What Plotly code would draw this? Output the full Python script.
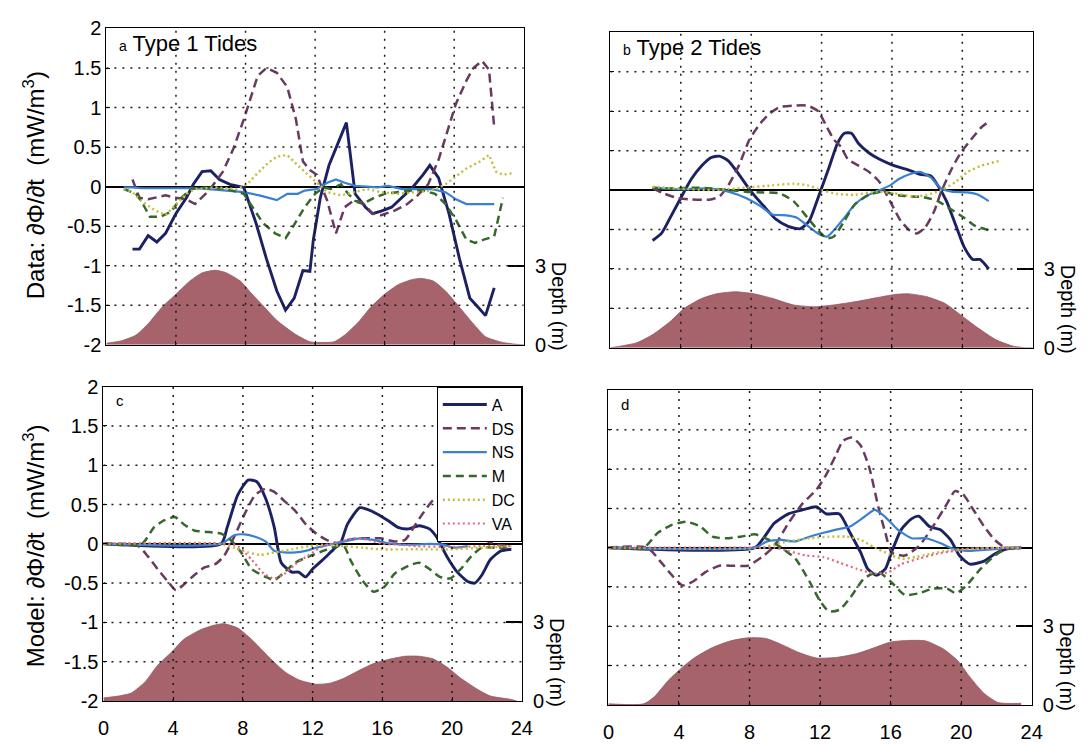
import plotly.graph_objects as go

W, H = 1088, 746
FONT = "Liberation Sans, Arial, Helvetica, sans-serif"

SERIES = ["A", "DS", "NS", "M", "DC", "VA"]
HOUR_TICKS = [0, 4, 8, 12, 16, 20, 24]
FLUX_TICKS = [-2, -1.5, -1, -0.5, 0, 0.5, 1, 1.5, 2]
FLUX_LABELS = ["-2", "-1.5", "-1", "-0.5", "0", "0.5", "1", "1.5", "2"]
DEPTH_TICKS = [0, 3]
DEPTH_LABELS = ["0", "3"]

# ---- (a) observations, type 1 tides: hour of day vs dPhi/dt (mW/m^3) ----
a_A_t = [1.5, 1.9, 2.4, 2.9, 3.4, 4.0, 4.6, 5.0, 5.5, 6.0, 6.5, 7.1, 7.9, 8.6, 9.2, 9.8, 10.3, 10.8, 11.3, 11.7,
         11.9, 12.3, 12.8, 13.3, 13.8, 14.3, 14.9, 15.3, 15.8, 16.4, 17.0, 17.6, 18.2, 18.6, 19.1, 19.7, 20.3,
         20.9, 21.4, 21.8, 22.3]
a_A = [-0.79, -0.79, -0.62, -0.70, -0.59, -0.34, -0.14, 0.03, 0.19, 0.20, 0.09, 0.03, -0.01, -0.46, -0.91, -1.32,
       -1.56, -1.41, -1.06, -1.07, -0.67, -0.14, 0.27, 0.54, 0.81, -0.09, -0.26, -0.34, -0.31, -0.26, -0.14, -0.01,
       0.15, 0.27, 0.11, -0.34, -0.91, -1.41, -1.53, -1.63, -1.28]
a_DS_t = [1.5, 1.9, 2.4, 3.4, 4.0, 4.6, 5.1, 5.9, 6.7, 7.3, 7.9, 8.3, 8.7, 9.2, 9.8, 10.4, 10.9, 11.3, 11.7, 12.1,
          12.7, 13.2, 13.7, 14.2, 14.8, 15.3, 15.8, 16.6, 17.3, 17.9, 18.5, 19.1, 19.6, 20.1, 20.7, 21.1, 21.6,
          22.0, 22.3]
a_DS = [0.09, -0.14, -0.16, -0.11, -0.14, -0.16, -0.22, -0.05, 0.19, 0.48, 0.85, 1.14, 1.40, 1.50, 1.44, 1.26,
        0.85, 0.32, 0.21, 0.15, -0.18, -0.59, -0.26, -0.18, -0.22, -0.34, -0.36, -0.30, -0.22, -0.11, 0.03, 0.34,
        0.68, 1.05, 1.34, 1.50, 1.59, 1.48, 0.75]
a_NS_t = [1.0, 1.5, 2.0, 3.0, 4.0, 5.0, 5.9, 7.0, 7.9, 8.8, 9.8, 10.4, 11.0, 11.4, 12.1, 12.7, 13.2, 13.7, 14.3,
          15.6, 16.2, 17.0, 17.8, 18.7, 19.5, 20.1, 20.7, 21.5, 22.3]
a_NS = [-0.01, -0.01, -0.02, -0.02, -0.02, -0.02, -0.03, -0.05, -0.07, -0.11, -0.17, -0.09, -0.09, -0.05, -0.03,
        0.05, 0.09, 0.05, 0.01, -0.01, 0.01, -0.03, -0.03, -0.03, -0.07, -0.16, -0.22, -0.22, -0.22]
a_M_t = [1.0, 1.7, 2.0, 2.5, 3.1, 3.7, 4.3, 4.9, 5.5, 6.9, 7.9, 8.4, 9.0, 9.7, 10.3, 10.8, 11.4, 12.0, 12.5, 12.9,
         13.5, 13.9, 14.3, 14.9, 15.4, 16.0, 16.6, 17.4, 18.2, 18.9, 19.5, 20.1, 20.7, 21.2, 21.7, 22.3, 22.8]
a_M = [-0.03, -0.09, -0.18, -0.38, -0.38, -0.32, -0.14, -0.03, -0.01, -0.03, -0.09, -0.26, -0.46, -0.59, -0.65,
       -0.48, -0.26, -0.09, -0.01, -0.03, 0.03, -0.09, -0.18, -0.20, -0.14, -0.09, -0.07, -0.05, -0.05, -0.09,
       -0.22, -0.42, -0.67, -0.71, -0.67, -0.63, -0.14]
a_DC_t = [1.0, 1.5, 2.0, 2.8, 3.4, 4.0, 4.6, 5.1, 6.3, 7.5, 8.1, 8.6, 9.3, 9.8, 10.4, 11.0, 11.6, 12.1, 12.7, 13.5,
          14.3, 15.0, 15.8, 16.8, 17.8, 18.7, 19.5, 20.1, 20.7, 21.5, 22.0, 22.4, 22.8, 23.3]
a_DC = [-0.03, -0.07, -0.18, -0.30, -0.36, -0.22, -0.09, -0.03, -0.01, -0.03, 0.03, 0.15, 0.30, 0.38, 0.40, 0.27,
        0.15, 0.05, -0.07, -0.11, -0.07, -0.03, -0.07, -0.09, -0.07, -0.05, 0.03, 0.13, 0.23, 0.32, 0.40, 0.19,
        0.15, 0.17]
a_depth_t = [0, 0.9, 1.7, 2.4, 3.2, 4.0, 4.8, 5.5, 6.3, 6.9, 7.7, 8.3, 9.0, 9.8, 10.8, 11.7, 12.5, 13.1, 13.7,
             14.5, 15.2, 16.0, 16.8, 17.6, 18.1, 18.8, 19.5, 20.3, 21.1, 21.8, 22.8, 23.6, 24.0]
a_depth = [0.06, 0.16, 0.37, 0.80, 1.43, 1.92, 2.42, 2.73, 2.83, 2.73, 2.42, 1.98, 1.49, 0.93, 0.43, 0.12, 0.09,
           0.12, 0.37, 0.87, 1.43, 1.92, 2.29, 2.48, 2.52, 2.42, 2.04, 1.43, 0.80, 0.31, 0.09, 0.02, 0.0]

# ---- (b) observations, type 2 tides ----
b_A_t = [2.4, 2.9, 3.4, 4.0, 4.6, 5.2, 5.7, 6.2, 6.7, 7.3, 8.0, 8.7, 9.4, 10.1, 10.8, 11.3, 11.8, 12.4, 12.9, 13.3,
         13.7, 14.1, 14.7, 15.3, 15.9, 16.4, 17.0, 17.6, 18.2, 18.6, 19.1, 19.6, 20.1, 20.6, 21.0, 21.5]
b_A = [-0.64, -0.55, -0.35, -0.10, 0.14, 0.31, 0.41, 0.43, 0.37, 0.20, -0.02, -0.20, -0.37, -0.46, -0.49, -0.39,
       -0.10, 0.27, 0.59, 0.72, 0.72, 0.59, 0.47, 0.39, 0.33, 0.29, 0.25, 0.20, 0.18, 0.06, -0.14, -0.43, -0.72,
       -0.88, -0.88, -1.0]
b_DS_t = [2.4, 3.0, 3.8, 4.6, 5.7, 6.2, 6.7, 7.3, 7.9, 8.5, 9.0, 9.6, 10.4, 11.2, 11.8, 12.3, 12.7, 13.1, 13.5,
          14.1, 14.7, 15.3, 15.7, 16.1, 16.5, 17.0, 17.4, 17.9, 18.4, 18.8, 19.4, 19.9, 20.5, 21.1, 21.6]
b_DS = [0.02, -0.04, -0.10, -0.12, -0.12, -0.08, 0.06, 0.31, 0.64, 0.84, 0.96, 1.05, 1.07, 1.07, 1.0, 0.80, 0.64,
        0.55, 0.39, 0.31, 0.23, 0.10, -0.06, -0.23, -0.39, -0.51, -0.55, -0.47, -0.27, -0.02, 0.27, 0.47, 0.64,
        0.80, 0.88]
b_NS_t = [2.4, 3.8, 5.7, 6.7, 7.7, 8.5, 9.2, 10.0, 10.6, 11.2, 11.8, 12.3, 12.7, 13.3, 13.9, 14.5, 15.3, 15.9, 16.4,
          17.0, 17.6, 18.2, 18.8, 19.4, 20.3, 20.9, 21.5]
b_NS = [0.03, 0.01, 0.02, -0.02, -0.10, -0.20, -0.31, -0.32, -0.35, -0.45, -0.55, -0.59, -0.51, -0.35, -0.18,
        -0.08, 0.0, 0.06, 0.14, 0.20, 0.23, 0.16, 0.02, -0.02, -0.03, -0.06, -0.14]
b_M_t = [2.4, 3.4, 4.8, 5.7, 6.7, 7.7, 8.7, 9.6, 10.4, 11.2, 11.8, 12.3, 12.7, 13.3, 13.9, 14.7, 15.5, 16.2, 17.0,
         17.8, 18.6, 19.4, 20.1, 20.7, 21.5]
b_M = [0.03, 0.02, 0.03, 0.02, 0.0, -0.02, -0.03, -0.04, -0.14, -0.35, -0.51, -0.61, -0.59, -0.39, -0.18, -0.06,
       -0.02, -0.06, -0.08, -0.09, -0.14, -0.25, -0.35, -0.45, -0.51]
b_DC_t = [2.4, 3.8, 5.7, 7.7, 9.2, 10.4, 11.2, 12.0, 12.9, 13.9, 15.1, 16.1, 17.2, 18.0, 18.8, 19.6, 20.3, 21.1, 22.1]
b_DC = [0.04, 0.02, 0.0, 0.03, 0.06, 0.08, 0.06, 0.0, -0.05, -0.06, -0.02, -0.04, -0.08, -0.06, 0.0, 0.10, 0.23,
        0.31, 0.37]
b_depth_t = [0, 1.5, 2.4, 3.4, 4.2, 5.2, 6.1, 7.1, 8.1, 9.2, 10.4, 11.6, 12.7, 13.9, 15.1, 16.2, 17.0, 18.0, 19.0,
             19.9, 20.9, 21.9, 22.9, 23.6, 24.0]
b_depth = [0.0, 0.19, 0.50, 1.0, 1.5, 1.88, 2.06, 2.13, 2.06, 1.88, 1.63, 1.56, 1.63, 1.75, 1.90, 2.03, 2.05, 1.94,
           1.69, 1.25, 0.75, 0.31, 0.06, 0.0, 0.0]

# ---- (c) model, type 1 tides ----
c_A_t = [0, 6.75, 7.1, 7.7, 8.3, 8.8, 9.3, 9.8, 10.2, 10.8, 11.2, 11.6, 12.0, 12.6, 13.2, 13.6, 14.0, 14.7, 15.1,
         15.7, 16.3, 16.9, 17.5, 18.1, 18.7, 19.1, 19.7, 20.3, 20.9, 21.3, 21.7, 22.2, 22.8, 23.4]
c_A = [0, 0, 0.21, 0.62, 0.81, 0.79, 0.58, 0.21, -0.24, -0.36, -0.36, -0.42, -0.32, -0.20, -0.07, 0.01, 0.25, 0.46,
       0.44, 0.38, 0.30, 0.21, 0.19, 0.23, 0.19, 0.09, -0.16, -0.36, -0.48, -0.50, -0.40, -0.20, -0.09, -0.07]
c_DS_t = [0, 1.2, 2.0, 2.55, 3.1, 3.7, 4.15, 4.6, 5.2, 5.8, 6.4, 6.9, 7.5, 8.1, 8.7, 9.3, 9.8, 10.4, 11.0, 11.6,
          12.2, 12.8, 13.4, 14.0, 14.7, 15.3, 15.9, 16.7, 17.3, 17.8, 18.3, 18.9, 19.6, 20.2, 20.8, 21.3, 21.9,
          22.6, 23.4]
c_DS = [0, 0, -0.03, -0.16, -0.32, -0.48, -0.59, -0.52, -0.40, -0.30, -0.26, -0.16, 0.09, 0.38, 0.62, 0.70, 0.66,
        0.54, 0.42, 0.25, 0.13, 0.05, 0.01, 0.05, 0.07, 0.07, 0.07, 0.03, 0.05, 0.21, 0.38, 0.55, 0.62, 0.58, 0.42,
        0.21, 0.05, -0.01, -0.03]
c_NS_t = [0, 6.75, 7.5, 8.1, 8.7, 9.3, 9.8, 10.4, 11.0, 11.6, 12.2, 13.0, 13.8, 14.7, 15.5, 16.3, 17.1, 17.9, 18.7,
          19.5, 20.1, 20.9]
c_NS = [0, 0, 0.11, 0.12, 0.09, 0.03, -0.09, -0.11, -0.11, -0.09, -0.05, -0.01, 0.03, 0.07, 0.05, 0.01, -0.01,
        -0.01, 0.0, -0.01, -0.05, -0.03]
c_M_t = [0, 2.2, 2.9, 3.5, 4.1, 4.6, 5.2, 6.0, 6.75, 7.3, 7.9, 8.5, 9.3, 9.8, 10.4, 11.0, 11.8, 12.6, 13.4, 13.8,
         14.2, 14.9, 15.5, 16.1, 16.7, 17.5, 18.1, 18.7, 19.3, 19.9, 20.5, 21.1, 21.7, 22.5, 23.4]
c_M = [0, 0, 0.21, 0.30, 0.34, 0.25, 0.17, 0.15, 0.13, 0.05, -0.11, -0.32, -0.42, -0.46, -0.36, -0.24, -0.16, -0.09,
       -0.03, -0.03, -0.22, -0.48, -0.61, -0.55, -0.38, -0.28, -0.24, -0.32, -0.42, -0.44, -0.32, -0.16, -0.05,
       -0.05, -0.05]
c_DC_t = [0, 6.75, 7.5, 8.3, 9.0, 9.8, 10.8, 11.8, 12.8, 13.8, 14.9, 15.9, 17.9, 19.9, 21.8, 23.4]
c_DC = [0, 0, -0.05, -0.11, -0.14, -0.11, -0.07, -0.03, -0.01, -0.03, -0.05, -0.07, -0.07, -0.07, -0.05, -0.03]
c_VA_t = [0, 7.0, 7.7, 8.5, 9.2, 9.8, 10.4, 11.0, 11.8, 12.6, 13.6, 14.4, 15.2, 16.0, 17.0, 18.0, 19.9, 21.8, 23.4]
c_VA = [0, 0, -0.03, -0.20, -0.38, -0.44, -0.38, -0.26, -0.14, -0.03, 0.03, 0.07, 0.05, 0.0, -0.01, -0.03, -0.04,
        -0.03, -0.03]
c_depth_t = [0, 0.85, 1.6, 2.4, 3.1, 3.9, 4.6, 5.6, 6.4, 6.9, 7.7, 8.5, 9.5, 10.4, 11.2, 12.2, 13.0, 13.8, 14.7,
             15.5, 16.5, 17.3, 18.1, 18.9, 19.7, 20.5, 21.5, 22.2, 23.4, 23.7]
c_depth = [0.12, 0.19, 0.31, 0.74, 1.36, 1.86, 2.35, 2.73, 2.90, 2.95, 2.79, 2.35, 1.67, 1.12, 0.81, 0.64, 0.68,
           0.87, 1.18, 1.43, 1.61, 1.71, 1.71, 1.61, 1.30, 0.87, 0.43, 0.19, 0.06, 0.0]

# ---- (d) model, type 2 tides ----
d_A_t = [0, 8.3, 8.85, 9.4, 10.2, 11.0, 11.8, 12.35, 13.1, 13.7, 14.3, 14.7, 15.2, 15.7, 16.05, 16.6, 17.2, 17.6,
         18.2, 18.8, 19.4, 19.9, 20.5, 21.3, 21.9, 22.5, 23.4]
d_A = [0, 0, 0.14, 0.31, 0.43, 0.48, 0.52, 0.43, 0.43, 0.19, -0.06, -0.27, -0.35, -0.27, -0.06, 0.23, 0.37, 0.40,
       0.27, 0.23, 0.10, -0.10, -0.21, -0.17, -0.08, -0.02, 0.0]
d_DS_t = [0, 2.2, 3.0, 3.6, 4.2, 4.8, 5.5, 6.3, 7.1, 7.9, 8.7, 9.4, 10.2, 11.0, 11.8, 12.35, 12.9, 13.3, 13.8, 14.3,
          14.8, 15.3, 15.7, 16.05, 16.8, 17.6, 18.4, 19.2, 19.65, 20.1, 20.7, 21.3, 21.9, 22.5, 23.4]
d_DS = [0, 0, -0.19, -0.35, -0.48, -0.43, -0.31, -0.23, -0.23, -0.23, -0.12, 0.02, 0.31, 0.56, 0.74, 0.93, 1.18,
        1.36, 1.40, 1.30, 1.01, 0.52, 0.19, -0.06, -0.10, 0.02, 0.27, 0.56, 0.72, 0.68, 0.48, 0.27, 0.10, 0.0, 0.0]
d_NS_t = [0, 8.3, 9.0, 9.8, 10.6, 11.4, 12.2, 12.9, 13.7, 14.5, 15.1, 15.7, 16.4, 17.2, 18.0, 18.8, 19.6, 20.3, 21.1,
          21.9, 22.5, 23.4]
d_NS = [0, 0, 0.08, 0.10, 0.08, 0.14, 0.19, 0.23, 0.27, 0.39, 0.48, 0.39, 0.23, 0.12, 0.12, 0.06, -0.02, -0.04,
        -0.03, -0.02, 0.0, 0.0]
d_M_t = [0, 2.0, 2.8, 3.6, 4.4, 5.2, 5.9, 6.7, 7.5, 8.3, 9.1, 9.8, 10.6, 11.4, 12.0, 12.5, 13.1, 13.7, 14.5, 15.3,
         16.0, 16.8, 17.6, 18.4, 19.2, 19.7, 20.3, 21.1, 21.9, 22.5, 23.4]
d_M = [0, 0, 0.19, 0.29, 0.33, 0.27, 0.14, 0.12, 0.14, 0.17, 0.10, 0.0, -0.14, -0.43, -0.68, -0.81, -0.79, -0.64,
       -0.39, -0.31, -0.43, -0.60, -0.58, -0.52, -0.52, -0.58, -0.48, -0.27, -0.10, -0.02, 0.0]
d_DC_t = [0, 8.7, 9.4, 10.2, 11.4, 12.5, 13.5, 14.3, 15.1, 15.9, 16.6, 17.4, 18.2, 19.2, 20.0, 21.1, 22.5, 23.4]
d_DC = [0, 0, 0.04, 0.08, 0.12, 0.14, 0.14, 0.10, 0.0, -0.08, -0.14, -0.12, -0.08, -0.04, -0.02, -0.01, 0.0, 0.0]
d_VA_t = [0, 8.7, 9.4, 10.2, 11.2, 12.2, 13.1, 14.1, 15.1, 15.9, 16.6, 17.6, 18.6, 19.6, 20.7, 22.5, 23.4]
d_VA = [0, 0, 0.0, -0.04, -0.10, -0.12, -0.19, -0.27, -0.33, -0.31, -0.21, -0.14, -0.08, -0.04, -0.01, 0.0, 0.0]
d_depth_t = [0, 2.0, 2.6, 3.4, 4.2, 4.9, 5.9, 6.9, 7.9, 8.9, 9.8, 10.8, 11.8, 12.9, 14.1, 15.1, 16.0, 17.0, 18.0,
             19.0, 19.8, 20.5, 21.3, 22.1, 23.4]
d_depth = [0.04, 0.04, 0.31, 0.94, 1.44, 1.81, 2.19, 2.44, 2.56, 2.54, 2.31, 2.0, 1.79, 1.81, 1.96, 2.19, 2.40,
           2.46, 2.44, 2.13, 1.69, 1.06, 0.44, 0.09, 0.06]

# ---- styling ----
STYLE = {
    "A":  dict(color="#1b2163", width=2.9, dash="solid"),
    "DS": dict(color="#683a60", width=2.5, dash="9px,5px"),
    "NS": dict(color="#3a80d2", width=2.2, dash="solid"),
    "M":  dict(color="#35692c", width=2.5, dash="8px,5px"),
    "DC": dict(color="#c4bd35", width=2.4, dash="2px,3px"),
    "VA": dict(color="#e2677f", width=2.2, dash="2px,3px"),
}
FILL = "#a6636b"
FILL_EDGE = "#96575e"
GRID = "#1a1a1a"

# pixel boxes (left, top, right, bottom) of the four panels
panels = [
    dict(letter="a", title="Type 1 Tides", box=(102, 18, 526, 344), left=True, bottom=False, shape="linear",
         curves={"A": (a_A_t, a_A), "DS": (a_DS_t, a_DS), "NS": (a_NS_t, a_NS), "M": (a_M_t, a_M),
                 "DC": (a_DC_t, a_DC)},
         depth=(a_depth_t, a_depth)),
    dict(letter="b", title="Type 2 Tides", box=(614, 22, 1043, 347), left=False, bottom=False, shape="spline",
         curves={"A": (b_A_t, b_A), "DS": (b_DS_t, b_DS), "NS": (b_NS_t, b_NS), "M": (b_M_t, b_M),
                 "DC": (b_DC_t, b_DC)},
         depth=(b_depth_t, b_depth)),
    dict(letter="c", title="", box=(99, 387, 524, 711), left=True, bottom=True, shape="spline",
         curves={"A": (c_A_t, c_A), "DS": (c_DS_t, c_DS), "NS": (c_NS_t, c_NS), "M": (c_M_t, c_M),
                 "DC": (c_DC_t, c_DC), "VA": (c_VA_t, c_VA)},
         depth=(c_depth_t, c_depth)),
    dict(letter="d", title="", box=(612, 391, 1042, 715), left=False, bottom=True, shape="spline",
         curves={"A": (d_A_t, d_A), "DS": (d_DS_t, d_DS), "NS": (d_NS_t, d_NS), "M": (d_M_t, d_M),
                 "DC": (d_DC_t, d_DC), "VA": (d_VA_t, d_VA)},
         depth=(d_depth_t, d_depth)),
]


def fx(px):
    return px / W


def fy(py):
    return 1 - py / H


tick_font = dict(family=FONT, size=20, color="black")
fig = go.Figure()
layout = {}
shapes = []
annotations = []

for k, p in enumerate(panels, start=1):
    xid = "x" if k == 1 else f"x{k}"
    xkey = "xaxis" if k == 1 else f"xaxis{k}"
    dnum, fnum = 2 * k - 1, 2 * k
    did = "y" if dnum == 1 else f"y{dnum}"
    dkey = "yaxis" if dnum == 1 else f"yaxis{dnum}"
    fid, fkey = f"y{fnum}", f"yaxis{fnum}"
    l, t, r, b = p["box"]

    layout[xkey] = dict(domain=[fx(l), fx(r)], anchor=did, range=[0, 24], tickvals=HOUR_TICKS,
                        showticklabels=p["bottom"], ticks="inside", ticklen=4, tickcolor="black",
                        showline=True, mirror=True, linecolor="black", linewidth=1.3, showgrid=False,
                        zeroline=False, tickfont=tick_font, ticklabelstandoff=9, fixedrange=True)
    layout[dkey] = dict(domain=[fy(b), fy(t)], anchor=xid, side="right", range=[0, 12],
                        tickvals=DEPTH_TICKS, ticktext=DEPTH_LABELS, ticks="inside", ticklen=16, tickwidth=1.8,
                        tickcolor="black", showline=True, mirror=True, linecolor="black", linewidth=1.3,
                        showgrid=False, zeroline=False, tickfont=tick_font, ticklabelstandoff=6, fixedrange=True)
    layout[fkey] = dict(overlaying=did, anchor=xid, side="left", range=[-2, 2], tickvals=FLUX_TICKS,
                        ticktext=FLUX_LABELS, showticklabels=p["left"], ticks="inside", ticklen=4,
                        tickcolor="black", showline=False, showgrid=False, zeroline=True,
                        zerolinecolor="black", zerolinewidth=1.6, tickfont=tick_font, ticklabelstandoff=4,
                        fixedrange=True)

    # water depth (right axis), drawn underneath the flux curves
    dt, dv = p["depth"]
    fig.add_trace(go.Scatter(x=dt, y=dv, xaxis=xid, yaxis=did, mode="lines", fill="tozeroy",
                             fillcolor=FILL, line=dict(color=FILL_EDGE, width=0.8, shape="spline",
                                                       smoothing=0.6),
                             showlegend=False, hoverinfo="skip"))

    for name in SERIES:
        if name not in p["curves"]:
            continue
        xs, ys = p["curves"][name]
        st = STYLE[name]
        line = dict(color=st["color"], width=st["width"], dash=st["dash"], shape=p["shape"])
        if p["shape"] == "spline":
            line["smoothing"] = 0.6
        fig.add_trace(go.Scatter(x=xs, y=ys, xaxis=xid, yaxis=fid, mode="lines", name=name,
                                 legendgroup=name, showlegend=(k == 3), line=line))

    # dotted grid on top of the depth patch
    for h in HOUR_TICKS[1:-1]:
        shapes.append(dict(type="line", xref=xid, yref=fid, x0=h, x1=h, y0=-2, y1=2, layer="above",
                           line=dict(color=GRID, width=1.5, dash="2px,6px")))
    for v in FLUX_TICKS:
        if v in (-2, 0, 2):
            continue
        shapes.append(dict(type="line", xref=xid, yref=fid, x0=0, x1=24, y0=v, y1=v, layer="above",
                           line=dict(color=GRID, width=1.5, dash="2px,6px")))

    # panel tag and title
    if p["title"]:
        text = f"<span style='font-size:14px'>{p['letter']}</span> {p['title']}"
        annotations.append(dict(x=fx(l + 11), y=fy(t + 16), xref="paper", yref="paper", xanchor="left",
                                yanchor="middle", showarrow=False, text=text,
                                font=dict(family=FONT, size=22, color="black")))
    else:
        annotations.append(dict(x=fx(l + 11), y=fy(t + 14), xref="paper", yref="paper", xanchor="left",
                                yanchor="middle", showarrow=False, text=p["letter"],
                                font=dict(family=FONT, size=15, color="black")))

    # right-hand depth axis title
    annotations.append(dict(x=fx(r + 36), y=fy(b - 40), xref="paper", yref="paper", xanchor="center",
                            yanchor="middle", showarrow=False, text="Depth (m)", textangle=90,
                            font=dict(family=FONT, size=20, color="black")))

# left-hand titles for each row
annotations.append(dict(x=fx(28), y=fy(180), xref="paper", yref="paper", xanchor="center", yanchor="middle",
                        showarrow=False, text="Data: \u2202\u03a6/\u2202t  (mW/m<sup>3</sup>)", textangle=-90,
                        font=dict(family=FONT, size=24, color="black")))
annotations.append(dict(x=fx(28), y=fy(551), xref="paper", yref="paper", xanchor="center", yanchor="middle",
                        showarrow=False, text="Model: \u2202\u03a6/\u2202t  (mW/m<sup>3</sup>)", textangle=-90,
                        font=dict(family=FONT, size=24, color="black")))

fig.update_layout(
    width=W, height=H, autosize=False,
    margin=dict(l=0, r=0, t=0, b=0),
    paper_bgcolor="white", plot_bgcolor="white",
    font=dict(family=FONT, color="black"),
    shapes=shapes, annotations=annotations,
    legend=dict(x=fx(524), y=fy(387), xanchor="right", yanchor="top", bgcolor="white",
                bordercolor="black", borderwidth=1, tracegroupgap=0, itemwidth=44,
                font=dict(family=FONT, size=16, color="black")),
    **layout,
)

fig.write_html("out.html")
